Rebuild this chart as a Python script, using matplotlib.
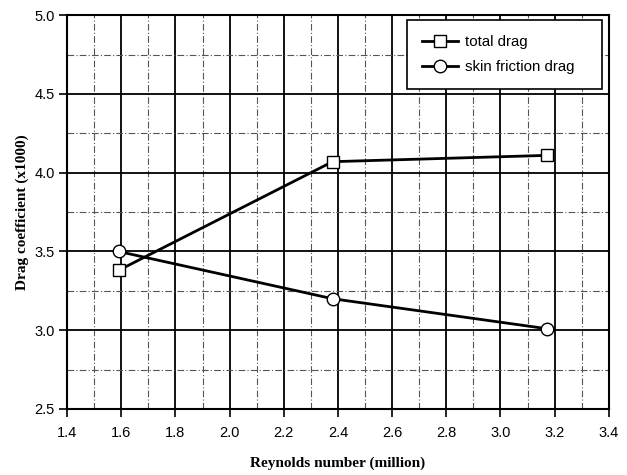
import matplotlib
matplotlib.use("Agg")
import matplotlib.pyplot as plt
from matplotlib.ticker import MultipleLocator

reynolds = [1.59, 2.38, 3.17]
total_drag = [3.38, 4.07, 4.11]
skin_friction = [3.50, 3.20, 3.01]
x_ticks = [1.4, 1.6, 1.8, 2.0, 2.2, 2.4, 2.6, 2.8, 3.0, 3.2, 3.4]
y_ticks = [2.5, 3.0, 3.5, 4.0, 4.5, 5.0]

plt.rcParams['font.family'] = ['Liberation Sans', 'DejaVu Sans']

fig = plt.figure(figsize=(6.27, 4.75), dpi=100)
ax = fig.add_axes([0.107, 0.139, 0.864, 0.829])

ax.plot(reynolds, total_drag, color='black', lw=2.0, marker='s', ms=9,
        mfc='white', mec='black', mew=1.0, label='total drag', zorder=3)
ax.plot(reynolds, skin_friction, color='black', lw=2.0, marker='o', ms=9,
        mfc='white', mec='black', mew=1.0, label='skin friction drag', zorder=3)

ax.set_xlim(1.4, 3.4)
ax.set_ylim(2.5, 5.0)
ax.set_xticks(x_ticks)
ax.set_yticks(y_ticks)
ax.set_xticklabels([f"{v:.1f}" for v in x_ticks])
ax.set_yticklabels([f"{v:.1f}" for v in y_ticks])
ax.xaxis.set_minor_locator(MultipleLocator(0.1))
ax.yaxis.set_minor_locator(MultipleLocator(0.25))

ax.grid(which='major', color='black', lw=1.3, ls='-')
ax.grid(which='minor', color='#555555', lw=0.8, ls=(0, (6, 2, 1, 2)))
ax.set_axisbelow(True)

ax.tick_params(which='major', direction='out', length=6, width=1.2,
               labelsize=10.5, pad=3)
ax.tick_params(which='minor', length=0)
ax.tick_params(axis='x', pad=6)
for s in ax.spines.values():
    s.set_linewidth(1.5)
    s.set_color('black')

ax.set_xlabel('Reynolds number (million)', family='Liberation Serif',
              fontweight='bold', fontsize=11, labelpad=12)
ax.set_ylabel('Drag coefficient (x1000)', family='Liberation Serif',
              fontweight='bold', fontsize=11, labelpad=4)

leg = ax.legend(loc='upper left', bbox_to_anchor=(0.627, 0.822, 0.360, 0.165),
                mode='expand', fontsize=10.8,
                frameon=True, fancybox=False, edgecolor='black', framealpha=1,
                handlelength=2.4, handletextpad=0.5, borderpad=1.0,
                labelspacing=0.7, borderaxespad=0.0)
leg.get_frame().set_linewidth(1.2)

fig.savefig('out.png', dpi=100)
